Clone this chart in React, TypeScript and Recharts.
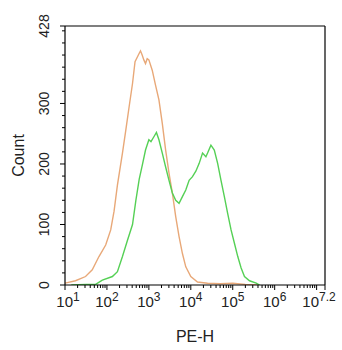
import React from 'react';
import { LineChart, Line, XAxis, YAxis, ReferenceLine } from 'recharts';

// Isotype control (orange) — x is log10(PE-H)
const isotypeLogPE = [1.0, 1.25, 1.49, 1.65, 1.81, 1.97, 2.09, 2.17, 2.25, 2.37, 2.45, 2.53, 2.61, 2.67, 2.77, 2.8, 2.84, 2.88, 2.92, 2.96, 3.0, 3.08, 3.16, 3.24, 3.32, 3.4, 3.48, 3.56, 3.64, 3.72, 3.8, 3.88, 4.0, 4.16, 4.4, 4.7, 5.0, 5.3, 5.6];
const isotypeCount = [3, 7, 14, 25, 47, 66, 91, 122, 165, 218, 256, 295, 333, 369, 383, 387, 380, 372, 366, 374, 372, 355, 330, 306, 267, 223, 185, 152, 113, 80, 52, 30, 14, 5, 3, 2, 3, 1, 0];

// Stained sample (green)
const stainedLogPE = [1.15, 1.5, 1.73, 1.89, 2.13, 2.25, 2.37, 2.49, 2.61, 2.69, 2.77, 2.85, 2.92, 3.0, 3.05, 3.12, 3.18, 3.24, 3.32, 3.4, 3.48, 3.56, 3.64, 3.72, 3.8, 3.88, 3.96, 4.04, 4.12, 4.2, 4.28, 4.36, 4.4, 4.48, 4.56, 4.64, 4.72, 4.8, 4.88, 4.96, 5.04, 5.12, 5.2, 5.28, 5.4, 5.56, 5.64];
const stainedCount = [0, 1, 1, 8, 14, 22, 47, 74, 100, 140, 175, 200, 223, 240, 237, 245, 252, 240, 218, 195, 173, 152, 140, 135, 146, 157, 173, 179, 188, 201, 218, 212, 218, 231, 223, 201, 173, 146, 118, 91, 69, 47, 28, 14, 7, 3, 0];

const xMajor = [1, 2, 3, 4, 5, 6, 7, 7.2];
const xLabeled = [1, 2, 3, 4, 5, 6, 7.2];
const xMinor: number[] = [];
for (let n = 1; n <= 6; n++) {
  for (let k = 2; k <= 9; k++) xMinor.push(n + Math.log10(k));
}
const xTicks = [...xMajor, ...xMinor].sort((a, b) => a - b);

const yLabeled = [0, 100, 200, 300, 428];
const yTicks: number[] = [];
for (let v = 0; v <= 420; v += 20) yTicks.push(v);
yTicks.push(428);

const isotypeData = isotypeLogPE.map((x, i) => ({ x, y: isotypeCount[i] }));
const stainedData = stainedLogPE.map((x, i) => ({ x, y: stainedCount[i] }));

const FONT = '"Liberation Sans", Arial, sans-serif';

const XTick = (props: any) => {
  const { x, y, payload } = props;
  const v = payload.value;
  const isMajor = xMajor.some((m) => Math.abs(m - v) < 1e-9);
  const labeled = xLabeled.some((m) => Math.abs(m - v) < 1e-9);
  const len = isMajor ? 5 : 3;
  let dx = 0;
  if (v === 1) dx = 3;
  if (v === 7.2) dx = -6;
  return (
    <g>
      <line x1={x} y1={y} x2={x} y2={y + len} stroke="#000" strokeWidth={1} />
      {labeled && (
        <text x={x + dx} y={y + 22} textAnchor="middle" fill="#222" fontSize={15} fontFamily={FONT}>
          <tspan>10</tspan>
          <tspan dy={-6} fontSize={12}>{v === 7.2 ? '7.2' : String(v)}</tspan>
        </text>
      )}
    </g>
  );
};

const YTick = (props: any) => {
  const { x, y, payload } = props;
  const v = payload.value;
  const labeled = yLabeled.includes(v);
  const len = labeled ? 5 : 3;
  const cx = x - 21;
  return (
    <g>
      <line x1={x} y1={y} x2={x - len} y2={y} stroke="#000" strokeWidth={1} />
      {labeled && (
        <text
          x={cx}
          y={y}
          transform={`rotate(-90, ${cx}, ${y})`}
          textAnchor="middle"
          dominantBaseline="central"
          fill="#222"
          fontSize={14}
          fontFamily={FONT}
        >
          {v}
        </text>
      )}
    </g>
  );
};

export default function App() {
  return (
    <div style={{ position: 'absolute', left: 0, top: 0, fontFamily: FONT, background: '#fff' }}>
      <LineChart width={342} height={350} margin={{ top: 26, right: 17, left: 0, bottom: 0 }}>
        <XAxis
          dataKey="x"
          type="number"
          domain={[1, 7.2]}
          ticks={xTicks}
          interval={0}
          tickSize={0}
          tickMargin={0}
          tickLine={false}
          tick={<XTick />}
          height={65}
          axisLine={{ stroke: '#000', strokeWidth: 1.2 }}
          allowDataOverflow
          label={{ value: 'PE-H', position: 'insideBottom', offset: 8, style: { fontSize: 16, fill: '#222', fontFamily: FONT } }}
        />
        <YAxis
          type="number"
          domain={[0, 428]}
          ticks={yTicks}
          interval={0}
          tickSize={0}
          tickMargin={0}
          tickLine={false}
          tick={<YTick />}
          width={65}
          axisLine={{ stroke: '#000', strokeWidth: 1.2 }}
          allowDataOverflow
          label={{ value: 'Count', angle: -90, position: 'insideLeft', offset: 18, style: { textAnchor: 'middle', fontSize: 16, fill: '#222', fontFamily: FONT } }}
        />
        <ReferenceLine y={428} stroke="#000" strokeWidth={1.2} />
        <ReferenceLine x={7.2} stroke="#000" strokeWidth={1.2} />
        <Line data={isotypeData} dataKey="y" type="linear" stroke="#E8A878" strokeWidth={1.4} dot={false} isAnimationActive={false} />
        <Line data={stainedData} dataKey="y" type="linear" stroke="#55D055" strokeWidth={1.4} dot={false} isAnimationActive={false} />
      </LineChart>
    </div>
  );
}
